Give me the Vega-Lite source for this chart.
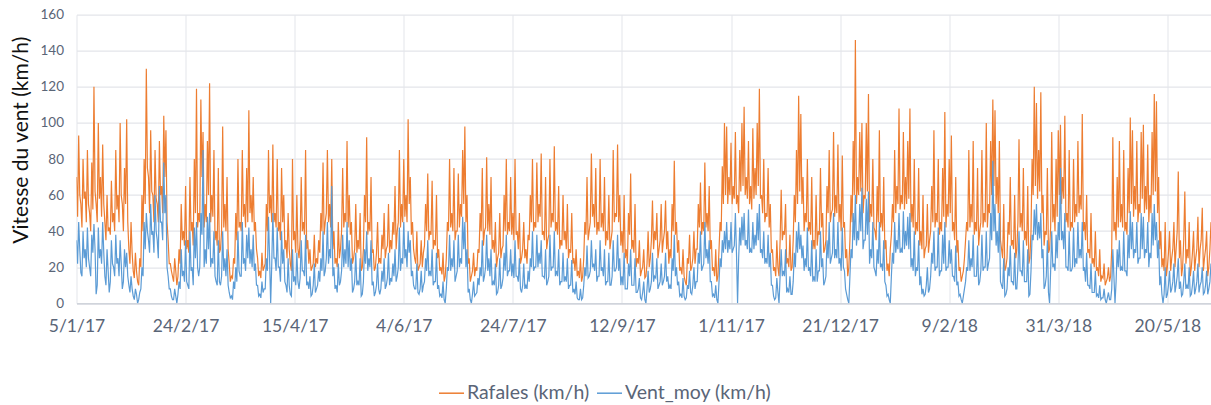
{
"$schema": "https://vega.github.io/schema/vega-lite/v6.json",
"width": 1134.5,
"height": 288.6,
"autosize": {"type": "none"},
"padding": {"left": 76.5, "top": 14.7, "right": 0, "bottom": 101.7},
"background": "white",
"config": {"view": {"stroke": null}, "font": "Lato"},
"data": {"values": [
{"d":0,"r":70,"v":35},{"d":1,"r":93,"v":45},{"d":2,"r":55,"v":17},{"d":3,"r":80,"v":40},{"d":4,"r":62,"v":30},{"d":5,"r":85,"v":42},{"d":6,"r":50,"v":20},{"d":7,"r":78,"v":38},{"d":8,"r":120,"v":44},{"d":9,"r":55,"v":5},
{"d":10,"r":100,"v":42},{"d":11,"r":70,"v":30},{"d":12,"r":88,"v":45},{"d":13,"r":45,"v":15},{"d":14,"r":60,"v":30},{"d":15,"r":42,"v":6},{"d":16,"r":68,"v":35},{"d":17,"r":50,"v":20},{"d":18,"r":85,"v":38},{"d":19,"r":60,"v":25},
{"d":20,"r":100,"v":35},{"d":21,"r":55,"v":8},{"d":22,"r":75,"v":30},{"d":23,"r":102,"v":28},{"d":24,"r":30,"v":10},{"d":25,"r":45,"v":15},{"d":26,"r":18,"v":4},{"d":27,"r":28,"v":8},{"d":28,"r":12,"v":0},{"d":29,"r":25,"v":6},
{"d":30,"r":60,"v":20},{"d":31,"r":80,"v":45},{"d":32,"r":130,"v":50},{"d":33,"r":70,"v":35},{"d":34,"r":96,"v":55},{"d":35,"r":60,"v":40},{"d":36,"r":85,"v":60},{"d":37,"r":55,"v":35},{"d":38,"r":90,"v":65},{"d":39,"r":65,"v":45},
{"d":40,"r":104,"v":78},{"d":41,"r":96,"v":60},{"d":42,"r":35,"v":15},{"d":43,"r":22,"v":8},{"d":44,"r":15,"v":2},{"d":45,"r":25,"v":8},{"d":46,"r":10,"v":0},{"d":47,"r":30,"v":12},{"d":48,"r":55,"v":30},{"d":49,"r":40,"v":18},
{"d":50,"r":65,"v":35},{"d":51,"r":35,"v":10},{"d":52,"r":70,"v":40},{"d":53,"r":45,"v":20},{"d":54,"r":80,"v":42},{"d":55,"r":119,"v":45},{"d":56,"r":50,"v":15},{"d":57,"r":113,"v":50},{"d":58,"r":95,"v":85},{"d":59,"r":55,"v":30},
{"d":60,"r":90,"v":48},{"d":61,"r":122,"v":50},{"d":62,"r":60,"v":25},{"d":63,"r":85,"v":40},{"d":64,"r":40,"v":12},{"d":65,"r":75,"v":35},{"d":66,"r":30,"v":10},{"d":67,"r":98,"v":40},{"d":68,"r":55,"v":25},{"d":69,"r":70,"v":30},
{"d":70,"r":22,"v":6},{"d":71,"r":15,"v":4},{"d":72,"r":25,"v":12},{"d":73,"r":50,"v":20},{"d":74,"r":80,"v":40},{"d":75,"r":45,"v":15},{"d":76,"r":85,"v":45},{"d":77,"r":55,"v":25},{"d":78,"r":75,"v":38},{"d":79,"r":107,"v":42},
{"d":80,"r":60,"v":30},{"d":81,"r":70,"v":38},{"d":82,"r":45,"v":22},{"d":83,"r":25,"v":10},{"d":84,"r":18,"v":5},{"d":85,"r":28,"v":12},{"d":86,"r":20,"v":8},{"d":87,"r":55,"v":25},{"d":88,"r":85,"v":48},{"d":89,"r":60,"v":0},
{"d":90,"r":88,"v":50},{"d":91,"r":50,"v":25},{"d":92,"r":80,"v":42},{"d":93,"r":45,"v":20},{"d":94,"r":75,"v":40},{"d":95,"r":60,"v":30},{"d":96,"r":35,"v":10},{"d":97,"r":50,"v":25},{"d":98,"r":22,"v":5},{"d":99,"r":80,"v":30},
{"d":100,"r":40,"v":15},{"d":101,"r":60,"v":28},{"d":102,"r":25,"v":8},{"d":103,"r":70,"v":35},{"d":104,"r":45,"v":18},{"d":105,"r":85,"v":38},{"d":106,"r":35,"v":12},{"d":107,"r":30,"v":15},{"d":108,"r":20,"v":5},{"d":109,"r":38,"v":22},
{"d":110,"r":25,"v":8},{"d":111,"r":35,"v":18},{"d":112,"r":50,"v":25},{"d":113,"r":78,"v":40},{"d":114,"r":45,"v":18},{"d":115,"r":85,"v":45},{"d":116,"r":55,"v":30},{"d":117,"r":80,"v":65},{"d":118,"r":40,"v":20},{"d":119,"r":25,"v":10},
{"d":120,"r":45,"v":22},{"d":121,"r":30,"v":12},{"d":122,"r":75,"v":38},{"d":123,"r":50,"v":30},{"d":124,"r":90,"v":45},{"d":125,"r":60,"v":35},{"d":126,"r":45,"v":25},{"d":127,"r":25,"v":8},{"d":128,"r":55,"v":28},{"d":129,"r":35,"v":12},
{"d":130,"r":50,"v":25},{"d":131,"r":20,"v":5},{"d":132,"r":60,"v":30},{"d":133,"r":92,"v":40},{"d":134,"r":45,"v":25},{"d":135,"r":70,"v":35},{"d":136,"r":30,"v":12},{"d":137,"r":20,"v":6},{"d":138,"r":45,"v":22},{"d":139,"r":25,"v":5},
{"d":140,"r":38,"v":18},{"d":141,"r":50,"v":25},{"d":142,"r":30,"v":10},{"d":143,"r":55,"v":28},{"d":144,"r":35,"v":14},{"d":145,"r":45,"v":22},{"d":146,"r":65,"v":30},{"d":147,"r":40,"v":15},{"d":148,"r":85,"v":42},{"d":149,"r":55,"v":25},
{"d":150,"r":80,"v":45},{"d":151,"r":60,"v":30},{"d":152,"r":102,"v":40},{"d":153,"r":70,"v":35},{"d":154,"r":45,"v":18},{"d":155,"r":25,"v":8},{"d":156,"r":40,"v":22},{"d":157,"r":20,"v":5},{"d":158,"r":35,"v":18},{"d":159,"r":28,"v":10},
{"d":160,"r":55,"v":25},{"d":161,"r":72,"v":35},{"d":162,"r":40,"v":18},{"d":163,"r":68,"v":30},{"d":164,"r":35,"v":12},{"d":165,"r":60,"v":28},{"d":166,"r":30,"v":10},{"d":167,"r":20,"v":5},{"d":168,"r":28,"v":12},{"d":169,"r":15,"v":0},
{"d":170,"r":45,"v":20},{"d":171,"r":80,"v":38},{"d":172,"r":50,"v":25},{"d":173,"r":75,"v":35},{"d":174,"r":40,"v":15},{"d":175,"r":72,"v":38},{"d":176,"r":55,"v":25},{"d":177,"r":85,"v":48},{"d":178,"r":98,"v":45},{"d":179,"r":60,"v":30},
{"d":180,"r":25,"v":8},{"d":181,"r":15,"v":0},{"d":182,"r":28,"v":12},{"d":183,"r":20,"v":5},{"d":184,"r":30,"v":14},{"d":185,"r":50,"v":20},{"d":186,"r":75,"v":35},{"d":187,"r":40,"v":15},{"d":188,"r":81,"v":38},{"d":189,"r":55,"v":25},
{"d":190,"r":70,"v":30},{"d":191,"r":35,"v":12},{"d":192,"r":45,"v":22},{"d":193,"r":25,"v":6},{"d":194,"r":50,"v":25},{"d":195,"r":30,"v":10},{"d":196,"r":60,"v":28},{"d":197,"r":80,"v":38},{"d":198,"r":45,"v":18},{"d":199,"r":70,"v":30},
{"d":200,"r":50,"v":22},{"d":201,"r":80,"v":35},{"d":202,"r":40,"v":15},{"d":203,"r":50,"v":25},{"d":204,"r":25,"v":6},{"d":205,"r":45,"v":22},{"d":206,"r":30,"v":10},{"d":207,"r":38,"v":18},{"d":208,"r":60,"v":25},{"d":209,"r":80,"v":40},
{"d":210,"r":45,"v":20},{"d":211,"r":78,"v":38},{"d":212,"r":55,"v":28},{"d":213,"r":83,"v":35},{"d":214,"r":40,"v":15},{"d":215,"r":70,"v":30},{"d":216,"r":35,"v":12},{"d":217,"r":80,"v":38},{"d":218,"r":50,"v":20},{"d":219,"r":87,"v":40},
{"d":220,"r":45,"v":18},{"d":221,"r":65,"v":30},{"d":222,"r":35,"v":12},{"d":223,"r":60,"v":28},{"d":224,"r":40,"v":15},{"d":225,"r":55,"v":25},{"d":226,"r":30,"v":10},{"d":227,"r":50,"v":24},{"d":228,"r":25,"v":8},{"d":229,"r":30,"v":12},
{"d":230,"r":18,"v":2},{"d":231,"r":25,"v":8},{"d":232,"r":15,"v":3},{"d":233,"r":45,"v":20},{"d":234,"r":70,"v":32},{"d":235,"r":40,"v":15},{"d":236,"r":83,"v":35},{"d":237,"r":55,"v":22},{"d":238,"r":75,"v":30},{"d":239,"r":45,"v":15},
{"d":240,"r":80,"v":35},{"d":241,"r":50,"v":20},{"d":242,"r":70,"v":30},{"d":243,"r":40,"v":12},{"d":244,"r":60,"v":28},{"d":245,"r":35,"v":10},{"d":246,"r":85,"v":35},{"d":247,"r":50,"v":18},{"d":248,"r":88,"v":38},{"d":249,"r":60,"v":25},
{"d":250,"r":40,"v":15},{"d":251,"r":60,"v":28},{"d":252,"r":30,"v":8},{"d":253,"r":50,"v":22},{"d":254,"r":72,"v":30},{"d":255,"r":35,"v":10},{"d":256,"r":55,"v":25},{"d":257,"r":25,"v":6},{"d":258,"r":35,"v":14},{"d":259,"r":18,"v":2},
{"d":260,"r":30,"v":12},{"d":261,"r":15,"v":0},{"d":262,"r":40,"v":18},{"d":263,"r":25,"v":8},{"d":264,"r":57,"v":28},{"d":265,"r":40,"v":15},{"d":266,"r":50,"v":25},{"d":267,"r":30,"v":10},{"d":268,"r":55,"v":22},{"d":269,"r":35,"v":12},
{"d":270,"r":57,"v":28},{"d":271,"r":40,"v":15},{"d":272,"r":30,"v":10},{"d":273,"r":55,"v":25},{"d":274,"r":79,"v":38},{"d":275,"r":45,"v":20},{"d":276,"r":35,"v":12},{"d":277,"r":20,"v":5},{"d":278,"r":30,"v":14},{"d":279,"r":12,"v":2},
{"d":280,"r":25,"v":10},{"d":281,"r":38,"v":18},{"d":282,"r":20,"v":5},{"d":283,"r":40,"v":20},{"d":284,"r":30,"v":12},{"d":285,"r":55,"v":28},{"d":286,"r":67,"v":40},{"d":287,"r":45,"v":20},{"d":288,"r":78,"v":45},{"d":289,"r":50,"v":30},
{"d":290,"r":65,"v":35},{"d":291,"r":35,"v":12},{"d":292,"r":20,"v":5},{"d":293,"r":30,"v":10},{"d":294,"r":15,"v":0},{"d":295,"r":45,"v":25},{"d":296,"r":76,"v":35},{"d":297,"r":100,"v":40},{"d":298,"r":98,"v":45},{"d":299,"r":70,"v":35},
{"d":300,"r":89,"v":45},{"d":301,"r":65,"v":30},{"d":302,"r":95,"v":50},{"d":303,"r":60,"v":0},{"d":304,"r":85,"v":42},{"d":305,"r":100,"v":48},{"d":306,"r":109,"v":50},{"d":307,"r":70,"v":35},{"d":308,"r":90,"v":52},{"d":309,"r":65,"v":30},
{"d":310,"r":97,"v":45},{"d":311,"r":75,"v":38},{"d":312,"r":100,"v":50},{"d":313,"r":119,"v":55},{"d":314,"r":60,"v":30},{"d":315,"r":80,"v":40},{"d":316,"r":50,"v":25},{"d":317,"r":75,"v":38},{"d":318,"r":55,"v":28},{"d":319,"r":30,"v":10},
{"d":320,"r":20,"v":2},{"d":321,"r":35,"v":14},{"d":322,"r":15,"v":0},{"d":323,"r":63,"v":30},{"d":324,"r":40,"v":18},{"d":325,"r":55,"v":30},{"d":326,"r":25,"v":8},{"d":327,"r":38,"v":15},{"d":328,"r":20,"v":5},{"d":329,"r":60,"v":28},
{"d":330,"r":85,"v":40},{"d":331,"r":115,"v":45},{"d":332,"r":105,"v":38},{"d":333,"r":70,"v":32},{"d":334,"r":50,"v":25},{"d":335,"r":80,"v":42},{"d":336,"r":45,"v":20},{"d":337,"r":70,"v":35},{"d":338,"r":35,"v":15},{"d":339,"r":60,"v":30},
{"d":340,"r":40,"v":18},{"d":341,"r":75,"v":40},{"d":342,"r":50,"v":25},{"d":343,"r":30,"v":12},{"d":344,"r":65,"v":35},{"d":345,"r":85,"v":45},{"d":346,"r":50,"v":25},{"d":347,"r":95,"v":50},{"d":348,"r":60,"v":30},{"d":349,"r":88,"v":45},
{"d":350,"r":55,"v":25},{"d":351,"r":82,"v":42},{"d":352,"r":45,"v":18},{"d":353,"r":30,"v":5},{"d":354,"r":20,"v":0},{"d":355,"r":60,"v":30},{"d":356,"r":90,"v":50},{"d":357,"r":146,"v":60},{"d":358,"r":70,"v":40},{"d":359,"r":95,"v":55},
{"d":360,"r":100,"v":64},{"d":361,"r":60,"v":35},{"d":362,"r":100,"v":58},{"d":363,"r":116,"v":62},{"d":364,"r":55,"v":30},{"d":365,"r":80,"v":45},{"d":366,"r":40,"v":18},{"d":367,"r":65,"v":30},{"d":368,"r":96,"v":45},{"d":369,"r":50,"v":22},
{"d":370,"r":70,"v":35},{"d":371,"r":35,"v":10},{"d":372,"r":22,"v":5},{"d":373,"r":30,"v":0},{"d":374,"r":55,"v":28},{"d":375,"r":85,"v":45},{"d":376,"r":65,"v":35},{"d":377,"r":108,"v":50},{"d":378,"r":60,"v":30},{"d":379,"r":95,"v":51},
{"d":380,"r":70,"v":40},{"d":381,"r":90,"v":48},{"d":382,"r":108,"v":50},{"d":383,"r":55,"v":25},{"d":384,"r":80,"v":40},{"d":385,"r":45,"v":20},{"d":386,"r":75,"v":35},{"d":387,"r":40,"v":15},{"d":388,"r":60,"v":8},{"d":389,"r":30,"v":5},
{"d":390,"r":55,"v":20},{"d":391,"r":35,"v":8},{"d":392,"r":65,"v":28},{"d":393,"r":96,"v":40},{"d":394,"r":50,"v":20},{"d":395,"r":80,"v":42},{"d":396,"r":45,"v":18},{"d":397,"r":75,"v":38},{"d":398,"r":106,"v":45},{"d":399,"r":55,"v":20},
{"d":400,"r":80,"v":35},{"d":401,"r":93,"v":30},{"d":402,"r":45,"v":15},{"d":403,"r":70,"v":32},{"d":404,"r":35,"v":12},{"d":405,"r":20,"v":5},{"d":406,"r":15,"v":0},{"d":407,"r":25,"v":8},{"d":408,"r":45,"v":20},{"d":409,"r":85,"v":35},
{"d":410,"r":55,"v":25},{"d":411,"r":90,"v":38},{"d":412,"r":45,"v":15},{"d":413,"r":75,"v":32},{"d":414,"r":40,"v":12},{"d":415,"r":85,"v":38},{"d":416,"r":50,"v":20},{"d":417,"r":100,"v":40},{"d":418,"r":55,"v":22},{"d":419,"r":90,"v":50},
{"d":420,"r":113,"v":79},{"d":421,"r":107,"v":55},{"d":422,"r":70,"v":40},{"d":423,"r":90,"v":50},{"d":424,"r":30,"v":10},{"d":425,"r":55,"v":25},{"d":426,"r":20,"v":5},{"d":427,"r":45,"v":20},{"d":428,"r":70,"v":32},{"d":429,"r":35,"v":12},
{"d":430,"r":60,"v":28},{"d":431,"r":30,"v":8},{"d":432,"r":91,"v":40},{"d":433,"r":50,"v":18},{"d":434,"r":75,"v":35},{"d":435,"r":40,"v":12},{"d":436,"r":65,"v":30},{"d":437,"r":25,"v":5},{"d":438,"r":80,"v":38},{"d":439,"r":120,"v":52},
{"d":440,"r":111,"v":55},{"d":441,"r":85,"v":45},{"d":442,"r":117,"v":50},{"d":443,"r":60,"v":30},{"d":444,"r":40,"v":10},{"d":445,"r":75,"v":35},{"d":446,"r":30,"v":0},{"d":447,"r":95,"v":40},{"d":448,"r":55,"v":22},{"d":449,"r":80,"v":38},
{"d":450,"r":96,"v":45},{"d":451,"r":99,"v":75},{"d":452,"r":70,"v":40},{"d":453,"r":104,"v":50},{"d":454,"r":50,"v":20},{"d":455,"r":85,"v":40},{"d":456,"r":45,"v":18},{"d":457,"r":80,"v":42},{"d":458,"r":55,"v":25},{"d":459,"r":90,"v":45},
{"d":460,"r":60,"v":30},{"d":461,"r":105,"v":45},{"d":462,"r":45,"v":20},{"d":463,"r":60,"v":28},{"d":464,"r":30,"v":10},{"d":465,"r":50,"v":22},{"d":466,"r":25,"v":6},{"d":467,"r":40,"v":18},{"d":468,"r":20,"v":5},{"d":469,"r":30,"v":10},
{"d":470,"r":15,"v":3},{"d":471,"r":22,"v":8},{"d":472,"r":12,"v":0},{"d":473,"r":20,"v":6},{"d":474,"r":15,"v":2},{"d":475,"r":92,"v":30},{"d":476,"r":45,"v":0},{"d":477,"r":70,"v":30},{"d":478,"r":90,"v":35},{"d":479,"r":55,"v":20},
{"d":480,"r":85,"v":40},{"d":481,"r":45,"v":18},{"d":482,"r":75,"v":38},{"d":483,"r":103,"v":51},{"d":484,"r":96,"v":45},{"d":485,"r":65,"v":30},{"d":486,"r":90,"v":45},{"d":487,"r":55,"v":25},{"d":488,"r":95,"v":50},{"d":489,"r":99,"v":48},
{"d":490,"r":65,"v":30},{"d":491,"r":88,"v":45},{"d":492,"r":60,"v":28},{"d":493,"r":95,"v":50},{"d":494,"r":116,"v":55},{"d":495,"r":112,"v":45},{"d":496,"r":70,"v":35},{"d":497,"r":40,"v":15},{"d":498,"r":25,"v":0},{"d":499,"r":45,"v":20},
{"d":500,"r":20,"v":5},{"d":501,"r":40,"v":18},{"d":502,"r":25,"v":8},{"d":503,"r":45,"v":22},{"d":504,"r":30,"v":10},{"d":505,"r":73,"v":25},{"d":506,"r":35,"v":12},{"d":507,"r":20,"v":5},{"d":508,"r":62,"v":22},{"d":509,"r":30,"v":10},
{"d":510,"r":45,"v":20},{"d":511,"r":20,"v":5},{"d":512,"r":40,"v":18},{"d":513,"r":25,"v":8},{"d":514,"r":48,"v":22},{"d":515,"r":30,"v":10},{"d":516,"r":53,"v":20},{"d":517,"r":25,"v":6},{"d":518,"r":40,"v":18},{"d":519,"r":20,"v":8},
{"d":520,"r":45,"v":22},
{"d":0.5,"r":48,"v":22},{"d":1.5,"r":60,"v":30},{"d":2.5,"r":42,"v":15},{"d":3.5,"r":58,"v":25},{"d":4.5,"r":45,"v":20},{"d":5.5,"r":55,"v":25},{"d":6.5,"r":40,"v":15},{"d":7.5,"r":52,"v":28},{"d":8.5,"r":62,"v":30},{"d":9.5,"r":45,"v":10},
{"d":10.5,"r":58,"v":25},{"d":11.5,"r":48,"v":22},{"d":12.5,"r":55,"v":28},{"d":13.5,"r":35,"v":10},{"d":14.5,"r":40,"v":18},{"d":15.5,"r":38,"v":12},{"d":16.5,"r":45,"v":22},{"d":17.5,"r":40,"v":15},{"d":18.5,"r":52,"v":22},{"d":19.5,"r":45,"v":15},
{"d":20.5,"r":60,"v":22},{"d":21.5,"r":40,"v":12},{"d":22.5,"r":55,"v":20},{"d":23.5,"r":45,"v":15},{"d":24.5,"r":22,"v":6},{"d":25.5,"r":28,"v":8},{"d":26.5,"r":14,"v":2},{"d":27.5,"r":18,"v":5},{"d":28.5,"r":10,"v":2},{"d":29.5,"r":20,"v":8},
{"d":30.5,"r":40,"v":15},{"d":31.5,"r":55,"v":30},{"d":32.5,"r":75,"v":40},{"d":33.5,"r":50,"v":28},{"d":34.5,"r":62,"v":38},{"d":35.5,"r":45,"v":28},{"d":36.5,"r":58,"v":40},{"d":37.5,"r":45,"v":25},{"d":38.5,"r":60,"v":45},{"d":39.5,"r":50,"v":35},
{"d":40.5,"r":70,"v":50},{"d":41.5,"r":45,"v":20},{"d":42.5,"r":22,"v":8},{"d":43.5,"r":18,"v":4},{"d":44.5,"r":12,"v":2},{"d":45.5,"r":18,"v":4},{"d":46.5,"r":15,"v":5},{"d":47.5,"r":22,"v":8},{"d":48.5,"r":35,"v":15},{"d":49.5,"r":32,"v":12},
{"d":50.5,"r":30,"v":12},{"d":51.5,"r":28,"v":8},{"d":52.5,"r":40,"v":18},{"d":53.5,"r":32,"v":10},{"d":54.5,"r":50,"v":25},{"d":55.5,"r":42,"v":20},{"d":56.5,"r":45,"v":20},{"d":57.5,"r":70,"v":38},{"d":58.5,"r":42,"v":20},{"d":59.5,"r":45,"v":22},
{"d":60.5,"r":60,"v":30},{"d":61.5,"r":45,"v":20},{"d":62.5,"r":48,"v":22},{"d":63.5,"r":35,"v":15},{"d":64.5,"r":32,"v":10},{"d":65.5,"r":28,"v":12},{"d":66.5,"r":40,"v":15},{"d":67.5,"r":42,"v":18},{"d":68.5,"r":40,"v":15},{"d":69.5,"r":30,"v":10},
{"d":70.5,"r":12,"v":3},{"d":71.5,"r":14,"v":2},{"d":72.5,"r":22,"v":8},{"d":73.5,"r":35,"v":12},{"d":74.5,"r":42,"v":18},{"d":75.5,"r":40,"v":15},{"d":76.5,"r":48,"v":22},{"d":77.5,"r":42,"v":18},{"d":78.5,"r":45,"v":25},{"d":79.5,"r":50,"v":22},
{"d":80.5,"r":45,"v":20},{"d":81.5,"r":40,"v":18},{"d":82.5,"r":30,"v":10},{"d":83.5,"r":15,"v":4},{"d":84.5,"r":14,"v":3},{"d":85.5,"r":18,"v":6},{"d":86.5,"r":22,"v":8},{"d":87.5,"r":40,"v":18},{"d":88.5,"r":50,"v":25},{"d":89.5,"r":45,"v":22},
{"d":90.5,"r":45,"v":25},{"d":91.5,"r":42,"v":18},{"d":92.5,"r":40,"v":20},{"d":93.5,"r":35,"v":12},{"d":94.5,"r":45,"v":22},{"d":95.5,"r":30,"v":12},{"d":96.5,"r":25,"v":6},{"d":97.5,"r":30,"v":10},{"d":98.5,"r":18,"v":4},{"d":99.5,"r":35,"v":12},
{"d":100.5,"r":28,"v":10},{"d":101.5,"r":30,"v":12},{"d":102.5,"r":35,"v":14},{"d":103.5,"r":40,"v":18},{"d":104.5,"r":38,"v":15},{"d":105.5,"r":30,"v":10},{"d":106.5,"r":22,"v":8},{"d":107.5,"r":18,"v":4},{"d":108.5,"r":22,"v":10},{"d":109.5,"r":20,"v":6},
{"d":110.5,"r":22,"v":10},{"d":111.5,"r":28,"v":12},{"d":112.5,"r":40,"v":18},{"d":113.5,"r":38,"v":15},{"d":114.5,"r":50,"v":25},{"d":115.5,"r":45,"v":22},{"d":116.5,"r":42,"v":25},{"d":117.5,"r":30,"v":15},{"d":118.5,"r":22,"v":8},{"d":119.5,"r":20,"v":6},
{"d":120.5,"r":25,"v":10},{"d":121.5,"r":40,"v":18},{"d":122.5,"r":42,"v":20},{"d":123.5,"r":45,"v":22},{"d":124.5,"r":42,"v":20},{"d":125.5,"r":38,"v":18},{"d":126.5,"r":22,"v":6},{"d":127.5,"r":30,"v":12},{"d":128.5,"r":28,"v":10},{"d":129.5,"r":30,"v":10},
{"d":130.5,"r":18,"v":4},{"d":131.5,"r":30,"v":12},{"d":132.5,"r":45,"v":22},{"d":133.5,"r":38,"v":18},{"d":134.5,"r":40,"v":20},{"d":135.5,"r":28,"v":10},{"d":136.5,"r":18,"v":4},{"d":137.5,"r":28,"v":10},{"d":138.5,"r":22,"v":8},{"d":139.5,"r":22,"v":8},
{"d":140.5,"r":30,"v":12},{"d":141.5,"r":25,"v":8},{"d":142.5,"r":32,"v":14},{"d":143.5,"r":28,"v":10},{"d":144.5,"r":30,"v":12},{"d":145.5,"r":38,"v":15},{"d":146.5,"r":30,"v":12},{"d":147.5,"r":45,"v":20},{"d":148.5,"r":42,"v":18},{"d":149.5,"r":45,"v":22},
{"d":150.5,"r":48,"v":25},{"d":151.5,"r":45,"v":20},{"d":152.5,"r":55,"v":28},{"d":153.5,"r":38,"v":15},{"d":154.5,"r":30,"v":10},{"d":155.5,"r":22,"v":8},{"d":156.5,"r":18,"v":6},{"d":157.5,"r":22,"v":8},{"d":158.5,"r":20,"v":6},{"d":159.5,"r":32,"v":12},
{"d":160.5,"r":40,"v":18},{"d":161.5,"r":35,"v":15},{"d":162.5,"r":38,"v":15},{"d":163.5,"r":30,"v":10},{"d":164.5,"r":32,"v":12},{"d":165.5,"r":25,"v":8},{"d":166.5,"r":18,"v":4},{"d":167.5,"r":16,"v":3},{"d":168.5,"r":12,"v":2},{"d":169.5,"r":25,"v":8},
{"d":170.5,"r":40,"v":18},{"d":171.5,"r":42,"v":18},{"d":172.5,"r":40,"v":20},{"d":173.5,"r":35,"v":12},{"d":174.5,"r":40,"v":18},{"d":175.5,"r":42,"v":20},{"d":176.5,"r":48,"v":22},{"d":177.5,"r":55,"v":30},{"d":178.5,"r":45,"v":20},{"d":179.5,"r":22,"v":6},
{"d":180.5,"r":12,"v":2},{"d":181.5,"r":18,"v":5},{"d":182.5,"r":15,"v":4},{"d":183.5,"r":18,"v":6},{"d":184.5,"r":28,"v":10},{"d":185.5,"r":40,"v":15},{"d":186.5,"r":32,"v":12},{"d":187.5,"r":42,"v":20},{"d":188.5,"r":40,"v":18},{"d":189.5,"r":38,"v":15},
{"d":190.5,"r":30,"v":10},{"d":191.5,"r":28,"v":10},{"d":192.5,"r":20,"v":5},{"d":193.5,"r":28,"v":10},{"d":194.5,"r":25,"v":8},{"d":195.5,"r":32,"v":14},{"d":196.5,"r":40,"v":18},{"d":197.5,"r":38,"v":15},{"d":198.5,"r":40,"v":18},{"d":199.5,"r":38,"v":15},
{"d":200.5,"r":35,"v":14},{"d":201.5,"r":38,"v":15},{"d":202.5,"r":30,"v":12},{"d":203.5,"r":22,"v":8},{"d":204.5,"r":30,"v":10},{"d":205.5,"r":25,"v":8},{"d":206.5,"r":22,"v":8},{"d":207.5,"r":35,"v":12},{"d":208.5,"r":45,"v":20},{"d":209.5,"r":40,"v":18},
{"d":210.5,"r":42,"v":20},{"d":211.5,"r":45,"v":20},{"d":212.5,"r":48,"v":22},{"d":213.5,"r":38,"v":15},{"d":214.5,"r":35,"v":14},{"d":215.5,"r":30,"v":10},{"d":216.5,"r":38,"v":15},{"d":217.5,"r":42,"v":18},{"d":218.5,"r":45,"v":20},{"d":219.5,"r":40,"v":15},
{"d":220.5,"r":38,"v":15},{"d":221.5,"r":30,"v":10},{"d":222.5,"r":32,"v":12},{"d":223.5,"r":35,"v":12},{"d":224.5,"r":30,"v":12},{"d":225.5,"r":25,"v":8},{"d":226.5,"r":28,"v":10},{"d":227.5,"r":22,"v":6},{"d":228.5,"r":18,"v":5},{"d":229.5,"r":15,"v":3},
{"d":230.5,"r":14,"v":2},{"d":231.5,"r":12,"v":2},{"d":232.5,"r":25,"v":10},{"d":233.5,"r":38,"v":15},{"d":234.5,"r":35,"v":14},{"d":235.5,"r":45,"v":18},{"d":236.5,"r":48,"v":20},{"d":237.5,"r":42,"v":18},{"d":238.5,"r":38,"v":12},{"d":239.5,"r":40,"v":15},
{"d":240.5,"r":42,"v":18},{"d":241.5,"r":40,"v":15},{"d":242.5,"r":32,"v":10},{"d":243.5,"r":35,"v":12},{"d":244.5,"r":30,"v":10},{"d":245.5,"r":40,"v":15},{"d":246.5,"r":45,"v":18},{"d":247.5,"r":48,"v":20},{"d":248.5,"r":45,"v":18},{"d":249.5,"r":32,"v":10},
{"d":250.5,"r":28,"v":10},{"d":251.5,"r":25,"v":8},{"d":252.5,"r":22,"v":8},{"d":253.5,"r":38,"v":15},{"d":254.5,"r":30,"v":10},{"d":255.5,"r":28,"v":10},{"d":256.5,"r":20,"v":6},{"d":257.5,"r":22,"v":8},{"d":258.5,"r":15,"v":3},{"d":259.5,"r":20,"v":6},
{"d":260.5,"r":14,"v":2},{"d":261.5,"r":22,"v":8},{"d":262.5,"r":20,"v":6},{"d":263.5,"r":35,"v":12},{"d":264.5,"r":30,"v":12},{"d":265.5,"r":35,"v":14},{"d":266.5,"r":25,"v":8},{"d":267.5,"r":35,"v":12},{"d":268.5,"r":28,"v":10},{"d":269.5,"r":40,"v":15},
{"d":270.5,"r":30,"v":12},{"d":271.5,"r":22,"v":8},{"d":272.5,"r":25,"v":8},{"d":273.5,"r":40,"v":18},{"d":274.5,"r":38,"v":15},{"d":275.5,"r":28,"v":10},{"d":276.5,"r":18,"v":4},{"d":277.5,"r":16,"v":3},{"d":278.5,"r":15,"v":4},{"d":279.5,"r":10,"v":3},
{"d":280.5,"r":22,"v":8},{"d":281.5,"r":18,"v":6},{"d":282.5,"r":25,"v":10},{"d":283.5,"r":22,"v":8},{"d":284.5,"r":30,"v":12},{"d":285.5,"r":42,"v":22},{"d":286.5,"r":38,"v":18},{"d":287.5,"r":40,"v":22},{"d":288.5,"r":42,"v":25},{"d":289.5,"r":40,"v":22},
{"d":290.5,"r":30,"v":12},{"d":291.5,"r":18,"v":4},{"d":292.5,"r":15,"v":3},{"d":293.5,"r":12,"v":2},{"d":294.5,"r":30,"v":12},{"d":295.5,"r":40,"v":20},{"d":296.5,"r":55,"v":28},{"d":297.5,"r":60,"v":30},{"d":298.5,"r":55,"v":28},{"d":299.5,"r":60,"v":30},
{"d":300.5,"r":55,"v":28},{"d":301.5,"r":58,"v":32},{"d":302.5,"r":55,"v":28},{"d":303.5,"r":50,"v":25},{"d":304.5,"r":62,"v":32},{"d":305.5,"r":65,"v":35},{"d":306.5,"r":60,"v":32},{"d":307.5,"r":58,"v":30},{"d":308.5,"r":55,"v":28},{"d":309.5,"r":52,"v":28},
{"d":310.5,"r":58,"v":30},{"d":311.5,"r":60,"v":32},{"d":312.5,"r":65,"v":35},{"d":313.5,"r":58,"v":28},{"d":314.5,"r":50,"v":25},{"d":315.5,"r":45,"v":22},{"d":316.5,"r":48,"v":22},{"d":317.5,"r":42,"v":20},{"d":318.5,"r":28,"v":10},{"d":319.5,"r":18,"v":4},
{"d":320.5,"r":15,"v":3},{"d":321.5,"r":20,"v":6},{"d":322.5,"r":35,"v":15},{"d":323.5,"r":35,"v":15},{"d":324.5,"r":38,"v":15},{"d":325.5,"r":22,"v":6},{"d":326.5,"r":20,"v":6},{"d":327.5,"r":18,"v":5},{"d":328.5,"r":35,"v":12},{"d":329.5,"r":45,"v":20},
{"d":330.5,"r":55,"v":28},{"d":331.5,"r":62,"v":30},{"d":332.5,"r":55,"v":25},{"d":333.5,"r":40,"v":18},{"d":334.5,"r":45,"v":20},{"d":335.5,"r":40,"v":18},{"d":336.5,"r":38,"v":15},{"d":337.5,"r":30,"v":12},{"d":338.5,"r":30,"v":12},{"d":339.5,"r":32,"v":12},
{"d":340.5,"r":38,"v":18},{"d":341.5,"r":42,"v":20},{"d":342.5,"r":28,"v":10},{"d":343.5,"r":35,"v":15},{"d":344.5,"r":50,"v":25},{"d":345.5,"r":45,"v":22},{"d":346.5,"r":52,"v":28},{"d":347.5,"r":48,"v":25},{"d":348.5,"r":50,"v":25},{"d":349.5,"r":45,"v":22},
{"d":350.5,"r":40,"v":18},{"d":351.5,"r":42,"v":20},{"d":352.5,"r":25,"v":8},{"d":353.5,"r":15,"v":2},{"d":354.5,"r":35,"v":15},{"d":355.5,"r":45,"v":25},{"d":356.5,"r":60,"v":35},{"d":357.5,"r":55,"v":32},{"d":358.5,"r":60,"v":35},{"d":359.5,"r":62,"v":40},
{"d":360.5,"r":50,"v":30},{"d":361.5,"r":58,"v":35},{"d":362.5,"r":62,"v":38},{"d":363.5,"r":45,"v":22},{"d":364.5,"r":48,"v":25},{"d":365.5,"r":42,"v":20},{"d":366.5,"r":35,"v":15},{"d":367.5,"r":45,"v":22},{"d":368.5,"r":42,"v":20},{"d":369.5,"r":40,"v":18},
{"d":370.5,"r":30,"v":12},{"d":371.5,"r":18,"v":4},{"d":372.5,"r":15,"v":2},{"d":373.5,"r":38,"v":15},{"d":374.5,"r":45,"v":22},{"d":375.5,"r":50,"v":28},{"d":376.5,"r":55,"v":30},{"d":377.5,"r":52,"v":28},{"d":378.5,"r":55,"v":28},{"d":379.5,"r":52,"v":30},
{"d":380.5,"r":55,"v":32},{"d":381.5,"r":58,"v":30},{"d":382.5,"r":45,"v":20},{"d":383.5,"r":42,"v":18},{"d":384.5,"r":38,"v":15},{"d":385.5,"r":40,"v":18},{"d":386.5,"r":32,"v":10},{"d":387.5,"r":30,"v":5},{"d":388.5,"r":25,"v":4},{"d":389.5,"r":32,"v":10},
{"d":390.5,"r":28,"v":6},{"d":391.5,"r":40,"v":15},{"d":392.5,"r":45,"v":22},{"d":393.5,"r":42,"v":18},{"d":394.5,"r":45,"v":20},{"d":395.5,"r":38,"v":15},{"d":396.5,"r":40,"v":18},{"d":397.5,"r":48,"v":22},{"d":398.5,"r":42,"v":18},{"d":399.5,"r":48,"v":20},
{"d":400.5,"r":50,"v":22},{"d":401.5,"r":40,"v":15},{"d":402.5,"r":35,"v":12},{"d":403.5,"r":28,"v":10},{"d":404.5,"r":18,"v":4},{"d":405.5,"r":12,"v":2},{"d":406.5,"r":18,"v":4},{"d":407.5,"r":35,"v":12},{"d":408.5,"r":40,"v":18},{"d":409.5,"r":42,"v":18},
{"d":410.5,"r":45,"v":20},{"d":411.5,"r":38,"v":15},{"d":412.5,"r":40,"v":15},{"d":413.5,"r":32,"v":10},{"d":414.5,"r":45,"v":18},{"d":415.5,"r":42,"v":18},{"d":416.5,"r":45,"v":20},{"d":417.5,"r":42,"v":18},{"d":418.5,"r":50,"v":25},{"d":419.5,"r":60,"v":35},
{"d":420.5,"r":65,"v":40},{"d":421.5,"r":55,"v":32},{"d":422.5,"r":50,"v":28},{"d":423.5,"r":35,"v":12},{"d":424.5,"r":25,"v":8},{"d":425.5,"r":18,"v":4},{"d":426.5,"r":25,"v":8},{"d":427.5,"r":38,"v":15},{"d":428.5,"r":32,"v":12},{"d":429.5,"r":30,"v":10},
{"d":430.5,"r":25,"v":8},{"d":431.5,"r":45,"v":20},{"d":432.5,"r":42,"v":18},{"d":433.5,"r":40,"v":15},{"d":434.5,"r":35,"v":12},{"d":435.5,"r":32,"v":12},{"d":436.5,"r":22,"v":4},{"d":437.5,"r":40,"v":18},{"d":438.5,"r":60,"v":35},{"d":439.5,"r":65,"v":38},
{"d":440.5,"r":58,"v":35},{"d":441.5,"r":62,"v":36},{"d":442.5,"r":50,"v":25},{"d":443.5,"r":32,"v":8},{"d":444.5,"r":38,"v":15},{"d":445.5,"r":28,"v":6},{"d":446.5,"r":42,"v":18},{"d":447.5,"r":45,"v":20},{"d":448.5,"r":40,"v":18},{"d":449.5,"r":48,"v":25},
{"d":450.5,"r":60,"v":35},{"d":451.5,"r":55,"v":35},{"d":452.5,"r":58,"v":30},{"d":453.5,"r":45,"v":20},{"d":454.5,"r":42,"v":18},{"d":455.5,"r":40,"v":18},{"d":456.5,"r":42,"v":20},{"d":457.5,"r":45,"v":20},{"d":458.5,"r":48,"v":22},{"d":459.5,"r":50,"v":25},
{"d":460.5,"r":52,"v":25},{"d":461.5,"r":40,"v":18},{"d":462.5,"r":35,"v":12},{"d":463.5,"r":28,"v":10},{"d":464.5,"r":25,"v":8},{"d":465.5,"r":22,"v":6},{"d":466.5,"r":20,"v":6},{"d":467.5,"r":18,"v":4},{"d":468.5,"r":15,"v":3},{"d":469.5,"r":12,"v":2},
{"d":470.5,"r":14,"v":3},{"d":471.5,"r":10,"v":2},{"d":472.5,"r":14,"v":3},{"d":473.5,"r":12,"v":2},{"d":474.5,"r":30,"v":8},{"d":475.5,"r":40,"v":15},{"d":476.5,"r":35,"v":12},{"d":477.5,"r":42,"v":20},{"d":478.5,"r":45,"v":18},{"d":479.5,"r":42,"v":18},
{"d":480.5,"r":40,"v":18},{"d":481.5,"r":38,"v":15},{"d":482.5,"r":50,"v":25},{"d":483.5,"r":55,"v":30},{"d":484.5,"r":48,"v":25},{"d":485.5,"r":52,"v":28},{"d":486.5,"r":45,"v":22},{"d":487.5,"r":50,"v":25},{"d":488.5,"r":58,"v":30},{"d":489.5,"r":50,"v":25},
{"d":490.5,"r":52,"v":28},{"d":491.5,"r":45,"v":20},{"d":492.5,"r":50,"v":25},{"d":493.5,"r":60,"v":32},{"d":494.5,"r":62,"v":35},{"d":495.5,"r":50,"v":25},{"d":496.5,"r":30,"v":10},{"d":497.5,"r":20,"v":5},{"d":498.5,"r":18,"v":5},{"d":499.5,"r":15,"v":3},
{"d":500.5,"r":28,"v":10},{"d":501.5,"r":18,"v":6},{"d":502.5,"r":30,"v":12},{"d":503.5,"r":20,"v":6},{"d":504.5,"r":40,"v":15},{"d":505.5,"r":25,"v":8},{"d":506.5,"r":15,"v":4},{"d":507.5,"r":35,"v":12},{"d":508.5,"r":22,"v":8},{"d":509.5,"r":25,"v":8},
{"d":510.5,"r":15,"v":4},{"d":511.5,"r":28,"v":10},{"d":512.5,"r":18,"v":5},{"d":513.5,"r":30,"v":12},{"d":514.5,"r":20,"v":6},{"d":515.5,"r":35,"v":12},{"d":516.5,"r":18,"v":5},{"d":517.5,"r":30,"v":10},{"d":518.5,"r":15,"v":5},{"d":519.5,"r":30,"v":12}
]},
"encoding": {
  "x": {"field": "d", "type": "quantitative",
    "scale": {"domain": [0, 520], "nice": false, "zero": false},
    "axis": {"title": null, "values": [0,50,100,150,200,250,300,350,400,450,500],
      "labelExpr": "timeFormat(datetime(2017, 0, 5 + datum.value), '%-d/%-m/%y')",
      "grid": true, "gridColor": "#E3E5EA", "gridWidth": 1, "ticks": false,
      "domain": true, "domainColor": "#D0D4DB", "domainWidth": 1.5,
      "labelFont": "Lato", "labelFontSize": 17.5, "labelColor": "#5A6577", "labelPadding": 14,
      "labelFlush": false, "labelOverlap": false}
  }
},
"layer": [
  {"mark": {"type": "line", "strokeWidth": 1.2, "clip": true},
   "encoding": {
     "y": {"field": "r", "type": "quantitative", "title": "Vitesse du vent (km/h)",
       "scale": {"domain": [0, 160], "nice": false},
       "axis": {"values": [0,20,40,60,80,100,120,140,160], "grid": true, "gridColor": "#E3E5EA", "gridWidth": 1.2,
         "ticks": false, "domain": false, "labelFont": "Lato", "labelFontSize": 13.5, "labelColor": "#5A6577", "labelPadding": 13,
         "titleFont": "Lato", "titleFontSize": 21, "titleFontWeight": "normal", "titleColor": "#111111",
         "titleAngle": -90, "titleX": -55.5, "titleY": 125, "titleAlign": "center", "titleBaseline": "middle"}},
     "color": {"datum": "Rafales (km/h)", "type": "nominal",
       "scale": {"domain": ["Rafales (km/h)", "Vent_moy (km/h)"], "range": ["#ED7D31", "#5B9BD5"]},
       "legend": {"title": null, "orient": "none", "legendX": 361.5, "legendY": 365, "direction": "horizontal",
         "symbolType": "stroke", "symbolSize": 625, "symbolStrokeWidth": 1.5, "labelFont": "Lato", "labelFontSize": 19.5,
         "labelColor": "#5A6577", "labelOffset": 2, "columnPadding": 4}}
   }},
  {"mark": {"type": "line", "strokeWidth": 1.2, "clip": true},
   "encoding": {
     "y": {"field": "v", "type": "quantitative", "title": "Vitesse du vent (km/h)",
       "scale": {"domain": [0, 160], "nice": false},
       "axis": {"values": [0,20,40,60,80,100,120,140,160], "grid": true, "gridColor": "#E3E5EA", "gridWidth": 1.2,
         "ticks": false, "domain": false, "labelFont": "Lato", "labelFontSize": 13.5, "labelColor": "#5A6577", "labelPadding": 13,
         "titleFont": "Lato", "titleFontSize": 21, "titleFontWeight": "normal", "titleColor": "#111111",
         "titleAngle": -90, "titleX": -55.5, "titleY": 125, "titleAlign": "center", "titleBaseline": "middle"}},
     "color": {"datum": "Vent_moy (km/h)", "type": "nominal"}
   }}
]
}
